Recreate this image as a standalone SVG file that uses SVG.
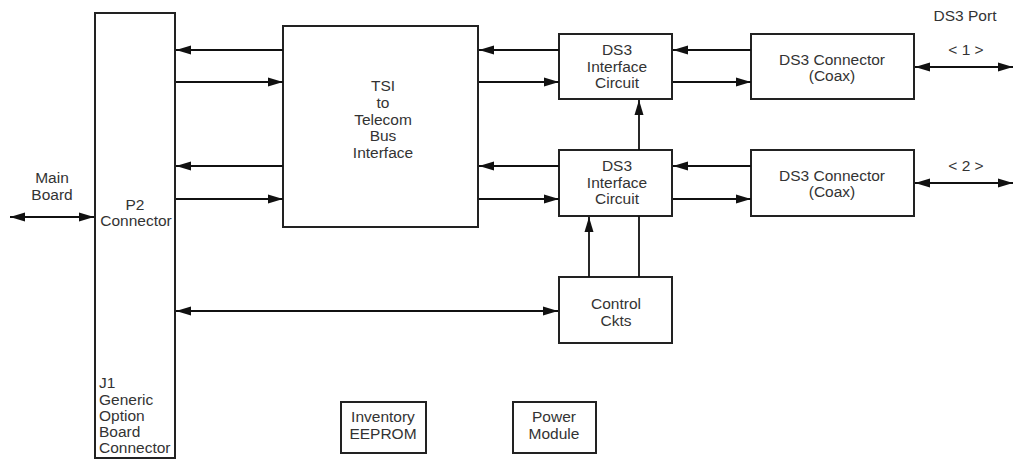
<svg xmlns="http://www.w3.org/2000/svg" width="1015" height="459" viewBox="0 0 1015 459">
<style>
.box{fill:#fff;stroke:#222;stroke-width:2}
.t{font-family:"Liberation Sans",Arial,sans-serif;font-size:15.5px;fill:#333;text-anchor:middle}
.tl{text-anchor:start}
.c{stroke:#111;stroke-width:1.8;fill:none}
</style>
<defs>
<marker id="ah" markerUnits="userSpaceOnUse" markerWidth="16" markerHeight="10" refX="15" refY="5" orient="auto-start-reverse">
<path d="M0,0.5 L15,5 L0,9.5 z" fill="#111"/>
</marker>
</defs>
<rect width="1015" height="459" fill="#fff"/>
<g id="p2">
<rect class="box" x="95" y="13" width="80" height="445"/>
<text class="t" x="135" y="210">P2</text>
<text class="t" x="136" y="226">Connector</text>
<text class="t tl" x="99" y="388">J1</text>
<text class="t tl" x="99" y="405">Generic</text>
<text class="t tl" x="99" y="421">Option</text>
<text class="t tl" x="99" y="437">Board</text>
<text class="t tl" x="99" y="453">Connector</text>
</g>
<g id="mainboard">
<text class="t" x="52" y="183">Main</text>
<text class="t" x="52" y="200">Board</text>
</g>
<g id="tsi">
<rect class="box" x="283" y="26" width="195" height="201"/>
<text class="t" x="383" y="91">TSI</text>
<text class="t" x="383" y="108">to</text>
<text class="t" x="383" y="125">Telecom</text>
<text class="t" x="383" y="141">Bus</text>
<text class="t" x="383" y="158">Interface</text>
</g>
<g id="ds3ic1">
<rect class="box" x="559" y="34" width="113" height="65"/>
<text class="t" x="617" y="55">DS3</text>
<text class="t" x="617" y="72">Interface</text>
<text class="t" x="617" y="88">Circuit</text>
</g>
<g id="ds3ic2">
<rect class="box" x="559" y="150" width="113" height="66"/>
<text class="t" x="617" y="171">DS3</text>
<text class="t" x="617" y="188">Interface</text>
<text class="t" x="617" y="204">Circuit</text>
</g>
<g id="ds3conn1">
<rect class="box" x="751" y="34" width="163" height="65"/>
<text class="t" x="832" y="65">DS3 Connector</text>
<text class="t" x="832" y="81">(Coax)</text>
</g>
<g id="ds3conn2">
<rect class="box" x="751" y="150" width="163" height="66"/>
<text class="t" x="832" y="181">DS3 Connector</text>
<text class="t" x="832" y="197">(Coax)</text>
</g>
<g id="ds3port">
<text class="t" x="965" y="21">DS3 Port</text>
<text class="t" x="966" y="55">&lt; 1 &gt;</text>
<text class="t" x="966" y="171">&lt; 2 &gt;</text>
</g>
<g id="control">
<rect class="box" x="559" y="277" width="113" height="66"/>
<text class="t" x="616" y="309">Control</text>
<text class="t" x="616" y="326">Ckts</text>
</g>
<g id="eeprom">
<rect class="box" x="341" y="402" width="85" height="51"/>
<text class="t" x="383" y="422">Inventory</text>
<text class="t" x="383" y="439">EEPROM</text>
</g>
<g id="power">
<rect class="box" x="513" y="402" width="83" height="51"/>
<text class="t" x="554" y="422">Power</text>
<text class="t" x="554" y="439">Module</text>
</g>
<g id="connectors">
<line class="c" x1="283" y1="50" x2="176" y2="50" marker-end="url(#ah)"/>
<line class="c" x1="176" y1="82" x2="283" y2="82" marker-end="url(#ah)"/>
<line class="c" x1="283" y1="166" x2="176" y2="166" marker-end="url(#ah)"/>
<line class="c" x1="176" y1="199" x2="283" y2="199" marker-end="url(#ah)"/>
<line class="c" x1="10" y1="217" x2="94" y2="217" marker-start="url(#ah)" marker-end="url(#ah)"/>
<line class="c" x1="559" y1="50" x2="479" y2="50" marker-end="url(#ah)"/>
<line class="c" x1="479" y1="82" x2="559" y2="82" marker-end="url(#ah)"/>
<line class="c" x1="559" y1="166" x2="479" y2="166" marker-end="url(#ah)"/>
<line class="c" x1="479" y1="199" x2="559" y2="199" marker-end="url(#ah)"/>
<line class="c" x1="751" y1="50" x2="673" y2="50" marker-end="url(#ah)"/>
<line class="c" x1="673" y1="82" x2="751" y2="82" marker-end="url(#ah)"/>
<line class="c" x1="751" y1="166" x2="673" y2="166" marker-end="url(#ah)"/>
<line class="c" x1="673" y1="199" x2="751" y2="199" marker-end="url(#ah)"/>
<line class="c" x1="915" y1="67" x2="1013" y2="67" marker-start="url(#ah)" marker-end="url(#ah)"/>
<line class="c" x1="915" y1="183" x2="1013" y2="183" marker-start="url(#ah)" marker-end="url(#ah)"/>
<line class="c" x1="639" y1="150" x2="639" y2="100" marker-end="url(#ah)"/>
<line class="c" x1="589" y1="277" x2="589" y2="217" marker-end="url(#ah)"/>
<line class="c" x1="639" y1="277" x2="639" y2="216"/>
<line class="c" x1="176" y1="311" x2="558" y2="311" marker-start="url(#ah)" marker-end="url(#ah)"/>
</g>
</svg>
